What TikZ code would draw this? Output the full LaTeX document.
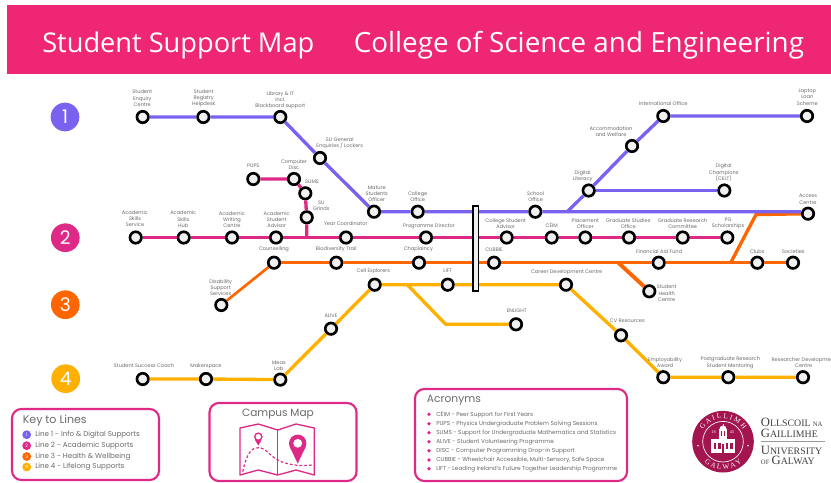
\documentclass[tikz,border=0pt]{standalone}
\usepackage{fontspec}
\setmainfont{Poppins}
\newfontfamily\titlefont{Open Sans}
\newfontfamily\logoserif{Liberation Serif}
\usetikzlibrary{decorations.text}
\definecolor{bannerpink}{HTML}{EE2674}
\definecolor{lineone}{HTML}{7B61F0}
\definecolor{linetwo}{HTML}{DE2A86}
\definecolor{linethree}{HTML}{FF6600}
\definecolor{linefour}{HTML}{FFB000}
\definecolor{labelgray}{HTML}{6A6A6A}
\definecolor{sealred}{HTML}{A3154F}
\definecolor{stationgray}{HTML}{F0F0F0}

\begin{document}
\begin{tikzpicture}[x=0.75pt,y=0.75pt,yscale=-1,xscale=1,
  stn/.style={circle,draw=black,line width=2pt,fill=stationgray,minimum size=8.6pt,inner sep=0pt},
  lbl/.style={font=\fontsize{3.8}{4.7}\selectfont,text=labelgray,align=center,inner sep=0pt},
  lineA/.style={draw=lineone,line width=2.5pt,line join=round},
  lineB/.style={draw=linetwo,line width=2.5pt,line join=round},
  lineC/.style={draw=linethree,line width=2.5pt,line join=round},
  lineD/.style={draw=linefour,line width=2.5pt,line join=round},
  bignum/.style={circle,minimum size=21.5pt,inner sep=0pt,text=white,font=\fontsize{14}{14}\selectfont},
  keydot/.style={circle,minimum size=6.6pt,inner sep=0pt,text=white,font=\fontsize{3.5}{3.5}\selectfont},
  keytxt/.style={anchor=west,inner sep=0pt,text=labelgray,font=\fontsize{5.35}{5.6}\selectfont},
  acrotxt/.style={anchor=west,inner sep=0pt,text=labelgray,font=\fontsize{4.32}{5}\selectfont},
  acrodot/.style={circle,fill=linetwo,minimum size=2.8pt,inner sep=0pt},
  infobox/.style={draw=linetwo,line width=1.6pt,rounded corners=7pt,fill=white},
  head/.style={anchor=west,inner sep=0pt,text=labelgray},
  logotxt/.style={anchor=base west,inner sep=0pt,text=black!75,font=\logoserif}]
\useasboundingbox (0,0) rectangle (831,482);

% Banner
\fill[bannerpink] (7,5) rectangle (831,74);
\node (titleL) [anchor=base west,inner sep=0pt,text=white,font=\titlefont\fontsize{20.4}{20.4}\selectfont] at (42,52) {Student Support Map};
\node (titleR) [anchor=base west,inner sep=0pt,text=white,font=\titlefont\fontsize{20.85}{20.85}\selectfont] at (353.5,52) {College of Science and Engineering};

% Line numbers
\node (numA) [bignum,fill=lineone] at (65,117) {1};
\node (numB) [bignum,fill=linetwo] at (65.3,237.7) {2};
\node (numC) [bignum,fill=linethree] at (65.3,304.7) {3};
\node (numD) [bignum,fill=linefour] at (65.7,378.7) {4};

% Stations line 1
\node (enquiry) [stn] at (142.7,117) {};
\node (registry) [stn] at (203.3,117) {};
\node (library) [stn] at (280.3,117) {};
\node (sugeneral) [stn] at (320,158) {};
\node (mature) [stn] at (374,211.7) {};
\node (collegeoff) [stn] at (417.7,211.7) {};
\node (schooloff) [stn] at (535.3,211.7) {};
\node (literacy) [stn] at (588.7,190.5) {};
\node (accommodation) [stn] at (632,146) {};
\node (international) [stn] at (663.3,116) {};
\node (laptop) [stn] at (807,116) {};
\node (champions) [stn] at (724.3,190.5) {};
\node (access) [stn] at (808,213.7) {};
% Stations line 2
\node (pups) [stn] at (253.3,179) {};
\node (disc) [stn] at (294,179) {};
\node (sums) [stn] at (305.3,193.3) {};
\node (grinds) [stn] at (306.7,217.3) {};
\node (skills) [stn] at (135.7,237.5) {};
\node (hub) [stn] at (183.7,237.5) {};
\node (writing) [stn] at (232,237.5) {};
\node (advisor) [stn] at (276,237.5) {};
\node (yearco) [stn] at (346,237.5) {};
\node (progdir) [stn] at (426,237.5) {};
\node (collegeadv) [stn] at (506.7,237.5) {};
\node (ceim) [stn] at (551.7,237.5) {};
\node (placement) [stn] at (585.3,237.5) {};
\node (gradstudies) [stn] at (629,237.5) {};
\node (gradresearch) [stn] at (682.7,237.5) {};
\node (pgschol) [stn] at (727.3,237.5) {};
% Stations line 3
\node (disability) [stn] at (221.3,305) {};
\node (counselling) [stn] at (274,262.7) {};
\node (biodiversity) [stn] at (336.3,262.7) {};
\node (chaplaincy) [stn] at (419,262.7) {};
\node (cubbie) [stn] at (494,262.7) {};
\node (finaid) [stn] at (658.7,262.7) {};
\node (clubs) [stn] at (757.3,262.7) {};
\node (societies) [stn] at (793,262.7) {};
\node (health) [stn] at (649.3,291.3) {};
% Stations line 4
\node (success) [stn] at (142.7,379) {};
\node (makerspace) [stn] at (206,379) {};
\node (ideas) [stn] at (280.3,379.6) {};
\node (alive) [stn] at (331,328.7) {};
\node (cell) [stn] at (374.7,284.7) {};
\node (lift) [stn] at (447.7,284.7) {};
\node (career) [stn] at (566,284.7) {};
\node (enlight) [stn] at (516,324.3) {};
\node (cvres) [stn] at (621,335.3) {};
\node (employ) [stn] at (663.3,377.2) {};
\node (postgrad) [stn] at (728.3,377.2) {};
\node (researcher) [stn] at (803,377.2) {};

% Junctions
\coordinate (juncA) at (567.3,211.7);
\coordinate (juncB) at (306.7,237.5);
\coordinate (juncC) at (618.3,262.7);
\coordinate (juncD) at (730.7,262.7);
\coordinate (juncE) at (756,214.6);
\coordinate (juncF) at (407.3,284.7);
\coordinate (juncG) at (445.7,324.3);

% Connection
\draw[lineC,line width=2pt] (disability) -- (counselling);
\draw[lineC] (counselling) -- (biodiversity) -- (chaplaincy) -- (cubbie) -- (finaid) -- (clubs) -- (societies);
\draw[lineC,line width=2.9pt] (juncC) -- (health);
\draw[lineC] (juncD) -- (juncE) -- (access);
\draw[lineA] (enquiry) -- (registry) -- (library) -- (sugeneral) -- (mature) -- (collegeoff) -- (schooloff) -- (juncA) -- (juncA -| access.west);
\draw[lineA] (juncA) -- (literacy) -- (accommodation) -- (international) -- (laptop);
\draw[lineA] (literacy) -- (champions);
\draw[lineB] (skills) -- (hub) -- (writing) -- (advisor) -- (yearco) -- (progdir) -- (collegeadv) -- (ceim) -- (placement) -- (gradstudies) -- (gradresearch) -- (pgschol);
\draw[lineB] (pups) -- (disc) -- (sums) -- (grinds) -- (juncB);
\draw[lineD] (success) -- (makerspace) -- (ideas) -- (alive) -- (cell) -- (lift) -- (career) -- (cvres) -- (employ) -- (postgrad) -- (researcher);
\draw[lineD] (juncF) -- (juncG) -- (enlight);

% Interchange bar
\node (bar) [draw=black,line width=1.3pt,fill=stationgray,minimum width=4.2pt,minimum height=64pt,inner sep=0pt] at (475.7,248.5) {};

% Text Node
\node (enquiryL) [lbl] at (142.3,98.3) {Student\\Enquiry\\Centre};
\node (registryL) [lbl] at (203.7,98.3) {Student\\Registry\\Helpdesk};
\node (libraryL) [lbl] at (280.3,100.3) {Library \& IT\\incl.\\Blackboard support};
\node (sugeneralL) [lbl] at (339.7,143) {SU General\\Enquiries / Lockers};
\node (matureL) [lbl] at (376.7,193.7) {Mature\\Students\\Officer};
\node (collegeoffL) [lbl] at (417.7,197) {College\\Office};
\node (schooloffL) [lbl] at (535.7,197) {School\\Office};
\node (literacyL) [lbl] at (582.7,176.3) {Digital\\Literacy};
\node (accommodationL) [lbl] at (611,131.7) {Accommodation\\and Welfare};
\node (internationalL) [lbl] at (663.3,103.3) {International Office};
\node (laptopL) [lbl] at (807.3,97) {Laptop\\Loan\\Scheme};
\node (championsL) [lbl] at (723.7,172.7) {Digital\\Champions\\(CELT)};
\node (accessL) [lbl] at (808,199.3) {Access\\Centre};
\node (pupsL) [lbl] at (253.3,166) {PUPS};
\node (discL) [lbl] at (294,165) {Computer\\Disc};
\node (sumsL) [lbl] at (312,181.3) {SUMS};
\node (grindsL) [lbl] at (321.3,206) {SU\\Grinds};
\node (skillsL) [lbl] at (135,218.7) {Academic\\Skills\\Service};
\node (hubL) [lbl] at (183.3,219.3) {Academic\\Skills\\Hub};
\node (writingL) [lbl] at (232,219.7) {Academic\\Writing\\Centre};
\node (advisorL) [lbl] at (276.7,219.7) {Academic\\Student\\Advisor};
\node (yearcoL) [lbl] at (345.7,224) {Year Coordinator};
\node (progdirL) [lbl] at (429,226) {Programme Director};
\node (collegeadvL) [lbl] at (505.7,223.3) {College Student\\Advisor};
\node (ceimL) [lbl] at (551.7,225.3) {CÉIM};
\node (placementL) [lbl] at (585.3,223.3) {Placement\\Officer};
\node (gradstudiesL) [lbl] at (628.3,223.3) {Graduate Studies\\Office};
\node (gradresearchL) [lbl] at (682.7,223.3) {Graduate Research\\Committee};
\node (pgscholL) [lbl] at (728,223.3) {PG\\Scholarships};
\node (disabilityL) [lbl] at (220.7,287.7) {Disability\\Support\\Services};
\node (counsellingL) [lbl] at (274,249.3) {Counselling};
\node (biodiversityL) [lbl] at (336.3,249.3) {Biodiversity Trail};
\node (chaplaincyL) [lbl] at (418.3,249.3) {Chaplaincy};
\node (cubbieL) [lbl] at (494,249.3) {CUBBIE};
\node (finaidL) [lbl] at (659,251.3) {Financial Aid Fund};
\node (clubsL) [lbl] at (757.3,251.3) {Clubs};
\node (societiesL) [lbl] at (793.3,251.3) {Societies};
\node (healthL) [lbl] at (666.7,293.3) {Student\\Health\\Centre};
\node (successL) [lbl] at (144,366) {Student Success Coach};
\node (makerspaceL) [lbl] at (206,366) {Makerspace};
\node (ideasL) [lbl] at (278.7,365.3) {Ideas\\Lab};
\node (aliveL) [lbl] at (331,315.7) {ALIVE};
\node (cellL) [lbl] at (373.3,271) {Cell Explorers};
\node (liftL) [lbl] at (447.7,271) {LIFT};
\node (careerL) [lbl] at (566.7,272) {Career Development Centre};
\node (enlightL) [lbl] at (516.7,311) {ENLIGHT};
\node (cvresL) [lbl] at (627.3,320.3) {CV Resources};
\node (employL) [lbl] at (665,362.7) {Employability\\Award};
\node (postgradL) [lbl] at (730.3,362.7) {Postgraduate Research\\Student Mentoring};
\node (researcherL) [lbl] at (803.7,362.7) {Researcher Development\\Centre};

% Key to lines
\draw[infobox] (12,409) rectangle (159,480);
\node (keyhead) [head,font=\fontsize{8.3}{9}\selectfont] at (22.5,420.5) {Key to Lines};
\node (keydotA) [keydot,fill=lineone] at (26.7,434.7) {1};
\node (keydotB) [keydot,fill=linetwo] at (26.7,445.7) {2};
\node (keydotC) [keydot,fill=linethree] at (26.7,456.5) {3};
\node (keydotD) [keydot,fill=linefour] at (26.7,467) {4};
\node (keytxtA) [keytxt] at (35,434.7) {Line 1 - Info \& Digital Supports};
\node (keytxtB) [keytxt] at (35,445.5) {Line 2 - Academic Supports};
\node (keytxtC) [keytxt] at (35,456.3) {Line 3 - Health \& Wellbeing};
\node (keytxtD) [keytxt] at (35,466.8) {Line 4 - Lifelong Supports};

% Campus map
\draw[infobox] (209.5,403) rectangle (356.5,481);
\node (maphead) [inner sep=0pt,text=labelgray,font=\fontsize{7.9}{9}\selectfont] at (278,414) {Campus Map};
\draw[linetwo,line width=1pt,line join=round] (240,428) -- (258.3,424) -- (277.7,430) -- (296,424) -- (314.3,428) -- (314.3,475) -- (296,470) -- (277.7,475) -- (258.3,470) -- (240,475) -- cycle;
\draw[linetwo,line width=1pt] (277.7,430) -- (277.7,475);
\draw[linetwo,line width=0.9pt,dash pattern=on 2pt off 1.6pt] (242.7,471.7) .. controls (247,452) and (252,447.7) .. (258.3,447.7) .. controls (266,447.7) and (270,456) .. (277.7,460) .. controls (285,464) and (300,467) .. (311.7,465);
\fill[white] (258.3,437) circle (6);
\draw[linetwo,line width=1pt] (258.3,436.7) circle (3.6);
\fill[linetwo] (255,440) -- (261.6,440) -- (258.3,445.5) -- cycle;
\fill[white] (297.7,443.3) circle (10.5);
\fill[linetwo] (297.7,443.3) circle (8.7);
\fill[linetwo] (289.8,447) -- (305.6,447) -- (297.7,463.5) -- cycle;
\fill[white] (297.7,443.3) circle (4.4);

% Acronyms
\draw[infobox] (415,389) rectangle (627,481);
\node (acrohead) [head,font=\fontsize{8}{9}\selectfont] at (426.7,400) {Acronyms};
\node (acrodotA) [acrodot] at (429,414.3) {};
\node (acrodotB) [acrodot] at (429,423.7) {};
\node (acrodotC) [acrodot] at (429,432.7) {};
\node (acrodotD) [acrodot] at (429,441.7) {};
\node (acrodotE) [acrodot] at (429,450.7) {};
\node (acrodotF) [acrodot] at (429,460) {};
\node (acrodotG) [acrodot] at (429,468.7) {};
\node (acroA) [acrotxt] at (436,414.3) {CÉIM - Peer Support for First Years};
\node (acroB) [acrotxt] at (436,423.7) {PUPS - Physics Undergraduate Problem Solving Sessions};
\node (acroC) [acrotxt] at (436,432.7) {SUMS - Support for Undergraduate Mathematics and Statistics};
\node (acroD) [acrotxt] at (436,441.7) {ALIVE - Student Volunteering Programme};
\node (acroE) [acrotxt] at (436,450.7) {DISC - Computer Programming Drop-in Support};
\node (acroF) [acrotxt] at (436,460) {CUBBIE - Wheelchair Accessible, Multi-Sensory, Safe Space};
\node (acroG) [acrotxt] at (436,468.7) {LIFT - Leading Ireland's Future Together Leadership Programme};

% Seal
\fill[sealred] (723,441.7) circle (30.8);
\draw[white,line width=0.5pt] (723,441.7) circle (20.3);
\fill[white] (698,445.8) circle (0.9);
\fill[white] (748,445.8) circle (0.9);
\path[decorate,decoration={text along path,text align=center,text={|\logoserif\fontsize{5.4}{5.4}\selectfont\color{white}|G A I L L I M H}}] (699.6,441.7) arc (180:360:23.4);
\path[decorate,decoration={text along path,text align=center,text={|\logoserif\fontsize{5.4}{5.4}\selectfont\color{white}|G A L W A Y}}] (700.5,457.5) arc (145:35:27.5);
\fill[white] (711.3,439.3) rectangle (734.7,452.7);
\fill[white] (718.7,428.7) rectangle (727.3,439.3);
\fill[white] (719.5,429) arc (180:360:3.5) -- cycle;
\fill[white] (722.5,423.5) rectangle (723.5,426);
\fill[sealred] (720.6,431) rectangle (722.3,435.5);
\fill[sealred] (723.7,431) rectangle (725.4,435.5);
\fill[sealred] (713.5,442.5) rectangle (716,449);
\fill[sealred] (718,442.5) rectangle (720.5,449);
\fill[sealred] (725.5,442.5) rectangle (728,449);
\fill[sealred] (730,442.5) rectangle (732.5,449);
\fill[sealred] (721.8,444) rectangle (724.2,452.7);
\node (sealA) [inner sep=0pt,text=white,font=\logoserif\fontsize{3.2}{3.2}\selectfont] at (713.5,432) {18};
\node (sealB) [inner sep=0pt,text=white,font=\logoserif\fontsize{3.2}{3.2}\selectfont] at (732,432) {45};

% Logo text
\node (logoA) [logotxt] at (760.7,426.5) {{\fontsize{9.5}{9.5}\selectfont O}{\fontsize{7.4}{7.4}\selectfont LLSCOIL}\,{\fontsize{5}{5}\selectfont NA}};
\node (logoB) [logotxt] at (760.7,437) {{\fontsize{9.5}{9.5}\selectfont G}{\fontsize{7.4}{7.4}\selectfont AILLIMHE}};
\node (logoC) [logotxt] at (760.7,454) {{\fontsize{9.5}{9.5}\selectfont U}{\fontsize{7.4}{7.4}\selectfont NIVERSITY}};
\node (logoD) [logotxt] at (760.7,464) {{\fontsize{5}{5}\selectfont OF}\,{\fontsize{9.5}{9.5}\selectfont G}{\fontsize{7.4}{7.4}\selectfont ALWAY}};
\draw[black!40,line width=0.4pt] (760.5,441) -- (825,441);

\end{tikzpicture}
\end{document}
